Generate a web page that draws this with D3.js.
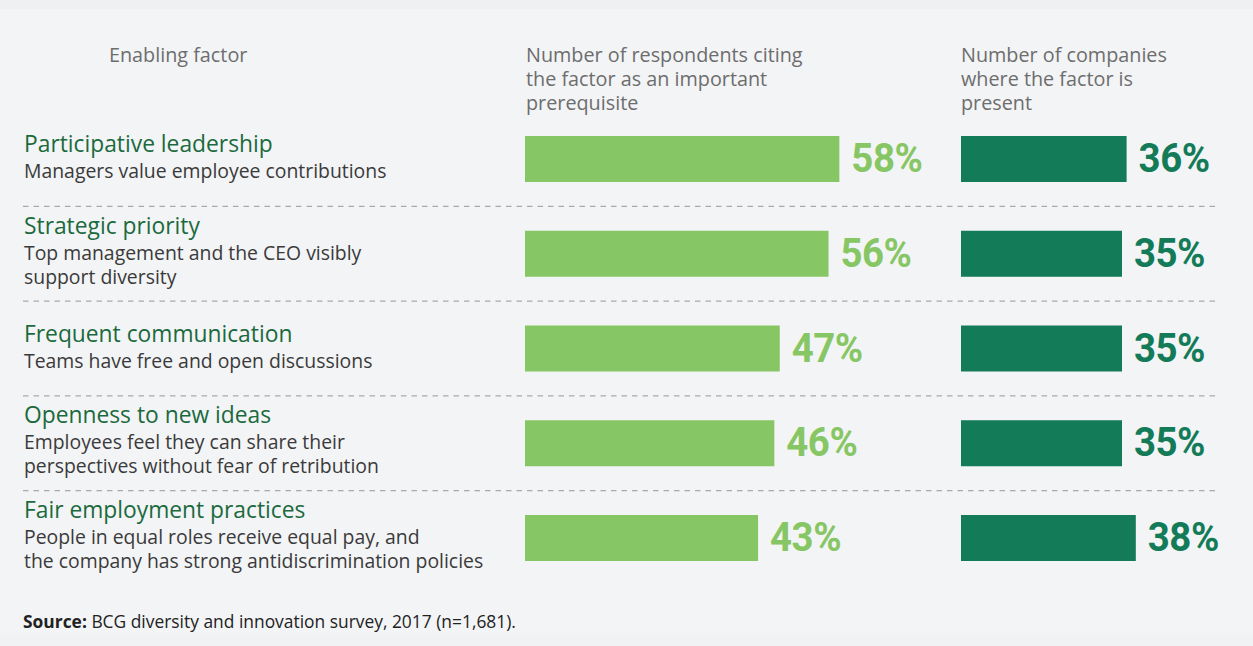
<!DOCTYPE html>
<html>
<head>
<meta charset="utf-8">
<script src="https://cdn.jsdelivr.net/npm/d3@7"></script>
<style>
  body { margin: 0; background: #f3f4f6; }
  svg { display: block; }
</style>
</head>
<body>
<script>
// data
const factors = [
  'Participative leadership',
  'Strategic priority',
  'Frequent communication',
  'Openness to new ideas',
  'Fair employment practices'
];
const descriptions = [
  ['Managers value employee contributions'],
  ['Top management and the CEO visibly', 'support diversity'],
  ['Teams have free and open discussions'],
  ['Employees feel they can share their', 'perspectives without fear of retribution'],
  ['People in equal roles receive equal pay, and', 'the company has strong antidiscrimination policies']
];
const citing = [58, 56, 47, 46, 43];
const present = [36, 35, 35, 35, 38];
const headers = [
  ['Enabling factor'],
  ['Number of respondents citing', 'the factor as an important', 'prerequisite'],
  ['Number of companies', 'where the factor is', 'present']
];

const W = 1253, H = 646;
const lightGreen = '#87c664', darkGreen = '#137b57';
const textFont = "'Open Sans', sans-serif";
const numFont = "Roboto, sans-serif";

const svg = d3.select('body').append('svg')
  .attr('width', W).attr('height', H);

svg.append('rect').attr('width', W).attr('height', H).attr('fill', '#f3f4f6');
svg.append('rect').attr('width', W).attr('height', 9).attr('fill', '#eff0f2');
svg.append('rect').attr('y', 633).attr('width', W).attr('height', 13).attr('fill', '#f1f2f4');

const y = d3.scalePoint().domain(factors).range([159, 538]);
const barH = 46;
const x1 = d3.scaleLinear().domain([0, 100]).range([525, 525 + 542]);
const x2 = d3.scaleLinear().domain([0, 100]).range([961, 961 + 460]);

// column headers
const headX = [109, 526, 961];
headers.forEach((lines, i) => {
  const t = svg.append('text')
    .attr('x', headX[i]).attr('y', 62)
    .attr('font-family', textFont).attr('font-size', 19.8)
    .attr('fill', '#6d6d6d');
  lines.forEach((l, j) => {
    t.append('tspan').attr('x', headX[i]).attr('dy', j ? 24 : 0).text(l);
  });
});

// dashed separators
for (let i = 1; i < factors.length; i++) {
  const sy = (y(factors[i - 1]) + y(factors[i])) / 2;
  svg.append('line')
    .attr('x1', 23).attr('x2', 1218)
    .attr('y1', sy).attr('y2', sy)
    .attr('stroke', '#a9a9a9').attr('stroke-width', 1.3)
    .attr('stroke-dasharray', '5.5,5');
}

// row labels
factors.forEach((f, i) => {
  const c = y(f);
  const n = descriptions[i].length;
  const top = c - 7 - (n - 1) * 13;
  svg.append('text')
    .attr('x', 24).attr('y', top)
    .attr('font-family', textFont).attr('font-size', 22.8)
    .attr('fill', '#1b6a3d')
    .text(f);
  descriptions[i].forEach((d, j) => {
    svg.append('text')
      .attr('x', 24).attr('y', top + 26 + j * 24)
      .attr('font-family', textFont).attr('font-size', 19.4)
      .attr('fill', '#3a3a3a')
      .text(d);
  });
});

// bars
function drawBars(vals, x, color) {
  svg.append('g').selectAll('rect')
    .data(vals)
    .join('rect')
    .attr('x', x(0))
    .attr('y', (d, i) => y(factors[i]) - barH / 2)
    .attr('width', d => x(d) - x(0))
    .attr('height', barH)
    .attr('fill', color);
  svg.append('g').selectAll('text')
    .data(vals)
    .join('text')
    .attr('transform', (d, i) => `translate(${x(d) + 12},${y(factors[i]) + 13}) scale(0.96,1)`)
    .attr('font-family', numFont).attr('font-weight', 'bold')
    .attr('font-size', 40)
    .attr('letter-spacing', -0.5)
    .attr('fill', color)
    .text(d => d + '%');
}
drawBars(citing, x1, lightGreen);
drawBars(present, x2, darkGreen);

// source
const src = svg.append('text')
  .attr('x', 23).attr('y', 628)
  .attr('font-family', textFont).attr('font-size', 17.4)
  .attr('fill', '#222');
src.append('tspan').attr('font-weight', 'bold').text('Source:');
src.append('tspan').text(' BCG diversity and innovation survey, 2017 (n=1,681).');
</script>
</body>
</html>
